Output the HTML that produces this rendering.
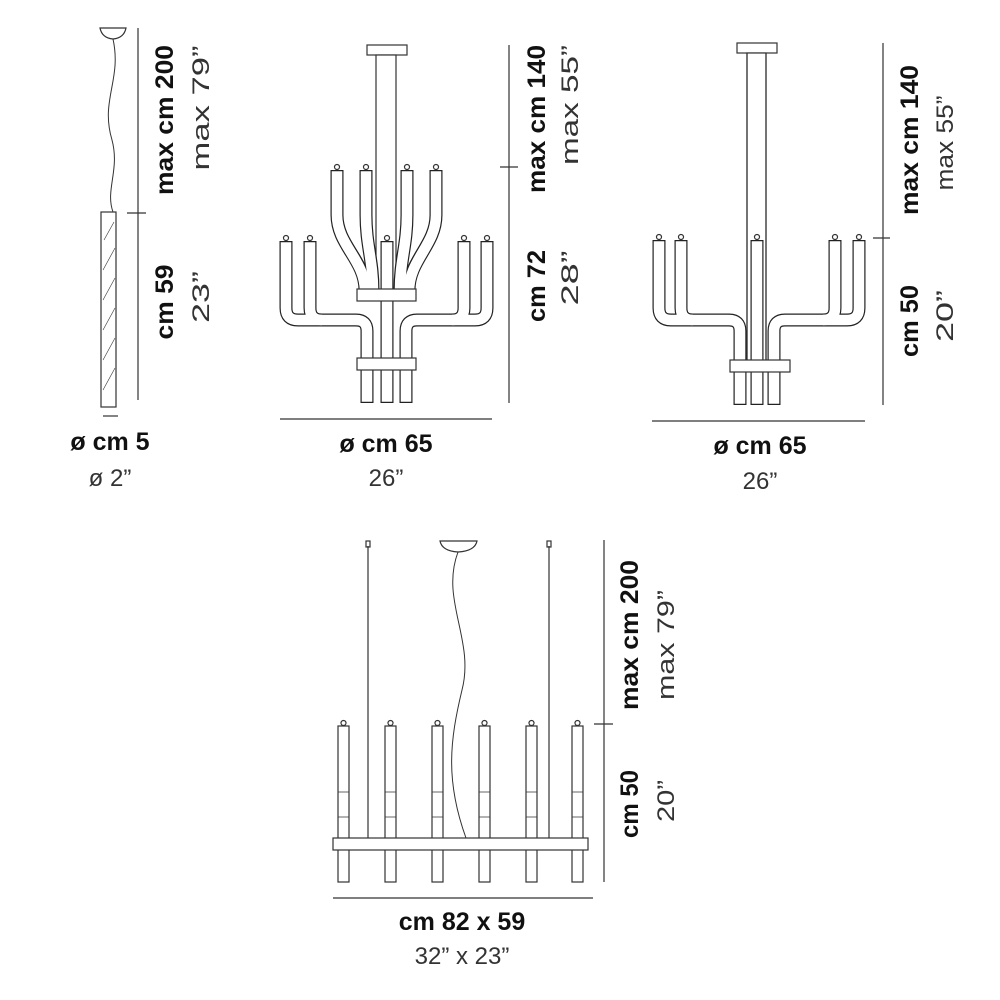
<!DOCTYPE html>
<html><head><meta charset="utf-8"><style>
html,body{margin:0;padding:0;background:#fff}
svg{display:block}
.b{font-family:"Liberation Sans",sans-serif;font-weight:bold;font-size:25px;fill:#111}
.l{font-family:"Liberation Sans",sans-serif;font-size:24px;fill:#333}
</style></head><body>
<svg width="1000" height="1000" viewBox="0 0 1000 1000" xmlns="http://www.w3.org/2000/svg">
<g stroke="#333" stroke-width="1.2" fill="none">
<!-- LEFT FIGURE -->
<path d="M100,28 H126 Q124,38 113,39 Q102,38 100,28Z" fill="#fff"/>
<path d="M113,39 C122,80 100,100 112,140 C120,170 105,190 113,212" stroke-width="1"/>
<rect x="101" y="212" width="15" height="195" fill="#fff"/>
<path d="M104,240 L114,222 M103,270 L115,248 M103,300 L115,278 M103,330 L115,308 M103,360 L115,338 M103,390 L115,368" stroke-width="0.6"/>
<line x1="138" y1="28" x2="138" y2="400"/>
<line x1="127" y1="213" x2="146" y2="213"/>
<line x1="103" y1="416" x2="118" y2="416"/>

<!-- MIDDLE FIGURE -->
<rect x="367" y="45" width="40" height="10" fill="#fff"/>
<rect x="376" y="55" width="20" height="240" fill="#fff"/>
<g stroke="#222" stroke-width="13" stroke-linecap="butt">
<path d="M337,170 V215 C337,245 365,260 365,290"/>
<path d="M366,170 V215 C366,245 373,260 373,290"/>
<path d="M407,170 V215 C407,245 400,260 400,290"/>
<path d="M436,170 V215 C436,245 409,260 409,290"/>
<path d="M286,241 V308 Q286,320 298,320 H356 Q367,320 367,331 V403"/>
<path d="M310,241 V308 Q310,320 322,320"/>
<path d="M487,241 V308 Q487,320 475,320 H417 Q406,320 406,331 V403"/>
<path d="M464,241 V308 Q464,320 452,320"/>
<path d="M387,241 V403"/>
</g>
<g stroke="#fff" stroke-width="10.6" stroke-linecap="butt">
<path d="M337,171.2 V215 C337,245 365,260 365,291"/>
<path d="M366,171.2 V215 C366,245 373,260 373,291"/>
<path d="M407,171.2 V215 C407,245 400,260 400,291"/>
<path d="M436,171.2 V215 C436,245 409,260 409,291"/>
<path d="M286,242.2 V308 Q286,320 298,320 H356 Q367,320 367,331 V401.8"/>
<path d="M310,242.2 V308 Q310,320 322,320"/>
<path d="M487,242.2 V308 Q487,320 475,320 H417 Q406,320 406,331 V401.8"/>
<path d="M464,242.2 V308 Q464,320 452,320"/>
<path d="M387,242.2 V401.8"/>
</g>
<g fill="#fff">
<circle cx="337" cy="167" r="2.5"/><circle cx="366" cy="167" r="2.5"/><circle cx="407" cy="167" r="2.5"/><circle cx="436" cy="167" r="2.5"/>
<circle cx="286" cy="238" r="2.5"/><circle cx="310" cy="238" r="2.5"/><circle cx="387" cy="238" r="2.5"/><circle cx="464" cy="238" r="2.5"/><circle cx="487" cy="238" r="2.5"/>
<rect x="357" y="289" width="59" height="12"/>
<rect x="357" y="358" width="59" height="12"/>
</g>
<line x1="509" y1="45" x2="509" y2="403"/>
<line x1="500" y1="167" x2="518" y2="167"/>
<line x1="280" y1="419" x2="492" y2="419"/>

<!-- RIGHT FIGURE -->
<rect x="737" y="43" width="40" height="10" fill="#fff"/>
<rect x="747" y="53" width="19" height="308" fill="#fff"/>
<g stroke="#222" stroke-width="13">
<path d="M659,240 V308 Q659,320 671,320 H729 Q740,320 740,331 V405"/>
<path d="M681,240 V308 Q681,320 693,320"/>
<path d="M859,240 V308 Q859,320 847,320 H785 Q774,320 774,331 V405"/>
<path d="M835,240 V308 Q835,320 823,320"/>
<path d="M757,240 V405"/>
</g>
<g stroke="#fff" stroke-width="10.6">
<path d="M659,241.2 V308 Q659,320 671,320 H729 Q740,320 740,331 V403.8"/>
<path d="M681,241.2 V308 Q681,320 693,320"/>
<path d="M859,241.2 V308 Q859,320 847,320 H785 Q774,320 774,331 V403.8"/>
<path d="M835,241.2 V308 Q835,320 823,320"/>
<path d="M757,241.2 V403.8"/>
</g>
<line x1="747" y1="53" x2="747" y2="360"/><line x1="766" y1="53" x2="766" y2="360"/>
<g fill="#fff">
<circle cx="659" cy="237" r="2.5"/><circle cx="681" cy="237" r="2.5"/><circle cx="757" cy="237" r="2.5"/><circle cx="835" cy="237" r="2.5"/><circle cx="859" cy="237" r="2.5"/>
<rect x="730" y="360" width="60" height="12"/>
</g>
<line x1="883" y1="43" x2="883" y2="405"/>
<line x1="873" y1="238" x2="890" y2="238"/>
<line x1="652" y1="421" x2="865" y2="421"/>

<!-- BOTTOM FIGURE -->
<path d="M440,541 H477 Q475,551 458,552 Q442,551 440,541Z" fill="#fff"/>
<path d="M458,552 C440,600 475,640 462,690 C450,740 445,780 466,838" stroke-width="1"/>
<line x1="368" y1="546" x2="368" y2="838"/><line x1="549" y1="546" x2="549" y2="838"/>
<rect x="366" y="541" width="4" height="6"/><rect x="547" y="541" width="4" height="6"/>
<g fill="#fff">
<rect x="338" y="726" width="11" height="156"/><rect x="385" y="726" width="11" height="156"/>
<rect x="432" y="726" width="11" height="156"/><rect x="479" y="726" width="11" height="156"/>
<rect x="526" y="726" width="11" height="156"/><rect x="572" y="726" width="11" height="156"/>
<circle cx="343.5" cy="723" r="2.5"/><circle cx="390.5" cy="723" r="2.5"/><circle cx="437.5" cy="723" r="2.5"/><circle cx="484.5" cy="723" r="2.5"/><circle cx="531.5" cy="723" r="2.5"/><circle cx="577.5" cy="723" r="2.5"/>
<rect x="333" y="838" width="255" height="12"/>
</g>
<path d="M338,792 H349 M338,817 H349 M385,792 H396 M385,817 H396 M432,792 H443 M432,817 H443 M479,792 H490 M479,817 H490 M526,792 H537 M526,817 H537 M572,792 H583 M572,817 H583" stroke-width="0.8"/>
<line x1="604" y1="540" x2="604" y2="882"/>
<line x1="594" y1="724" x2="613" y2="724"/>
<line x1="333" y1="898" x2="593" y2="898"/>
</g>

<!-- TEXT -->
<text class="b" transform="translate(173,120) rotate(-90)" text-anchor="middle" textLength="150" lengthAdjust="spacingAndGlyphs">max cm 200</text>
<text class="l" transform="translate(209,108) rotate(-90)" text-anchor="middle" textLength="125" lengthAdjust="spacingAndGlyphs">max 79”</text>
<text class="b" transform="translate(173,302) rotate(-90)" text-anchor="middle" textLength="75" lengthAdjust="spacingAndGlyphs">cm 59</text>
<text class="l" transform="translate(209,297) rotate(-90)" text-anchor="middle" textLength="52" lengthAdjust="spacingAndGlyphs">23”</text>
<text class="b" x="110" y="450" text-anchor="middle">ø cm 5</text>
<text class="l" x="110" y="486" text-anchor="middle">ø 2”</text>

<text class="b" transform="translate(545,119) rotate(-90)" text-anchor="middle" textLength="148" lengthAdjust="spacingAndGlyphs">max cm 140</text>
<text class="l" transform="translate(578,105) rotate(-90)" text-anchor="middle" textLength="120" lengthAdjust="spacingAndGlyphs">max 55”</text>
<text class="b" transform="translate(545,286) rotate(-90)" text-anchor="middle" textLength="72" lengthAdjust="spacingAndGlyphs">cm 72</text>
<text class="l" transform="translate(578,278) rotate(-90)" text-anchor="middle" textLength="55" lengthAdjust="spacingAndGlyphs">28”</text>
<text class="b" x="386" y="452" text-anchor="middle">ø cm 65</text>
<text class="l" x="386" y="486" text-anchor="middle">26”</text>

<text class="b" transform="translate(918,140) rotate(-90)" text-anchor="middle" textLength="150" lengthAdjust="spacingAndGlyphs">max cm 140</text>
<text class="l" transform="translate(953,143) rotate(-90)" text-anchor="middle" textLength="95" lengthAdjust="spacingAndGlyphs">max 55”</text>
<text class="b" transform="translate(918,321) rotate(-90)" text-anchor="middle" textLength="72" lengthAdjust="spacingAndGlyphs">cm 50</text>
<text class="l" transform="translate(953,316) rotate(-90)" text-anchor="middle" textLength="52" lengthAdjust="spacingAndGlyphs">20”</text>
<text class="b" x="760" y="454" text-anchor="middle">ø cm 65</text>
<text class="l" x="760" y="489" text-anchor="middle">26”</text>

<text class="b" transform="translate(638,635) rotate(-90)" text-anchor="middle" textLength="150" lengthAdjust="spacingAndGlyphs">max cm 200</text>
<text class="l" transform="translate(674,645) rotate(-90)" text-anchor="middle" textLength="110" lengthAdjust="spacingAndGlyphs">max 79”</text>
<text class="b" transform="translate(638,804) rotate(-90)" text-anchor="middle" textLength="68" lengthAdjust="spacingAndGlyphs">cm 50</text>
<text class="l" transform="translate(674,801) rotate(-90)" text-anchor="middle" textLength="42" lengthAdjust="spacingAndGlyphs">20”</text>
<text class="b" x="462" y="930" text-anchor="middle">cm 82 x 59</text>
<text class="l" x="462" y="964" text-anchor="middle">32” x 23”</text>
</svg>
</body></html>
